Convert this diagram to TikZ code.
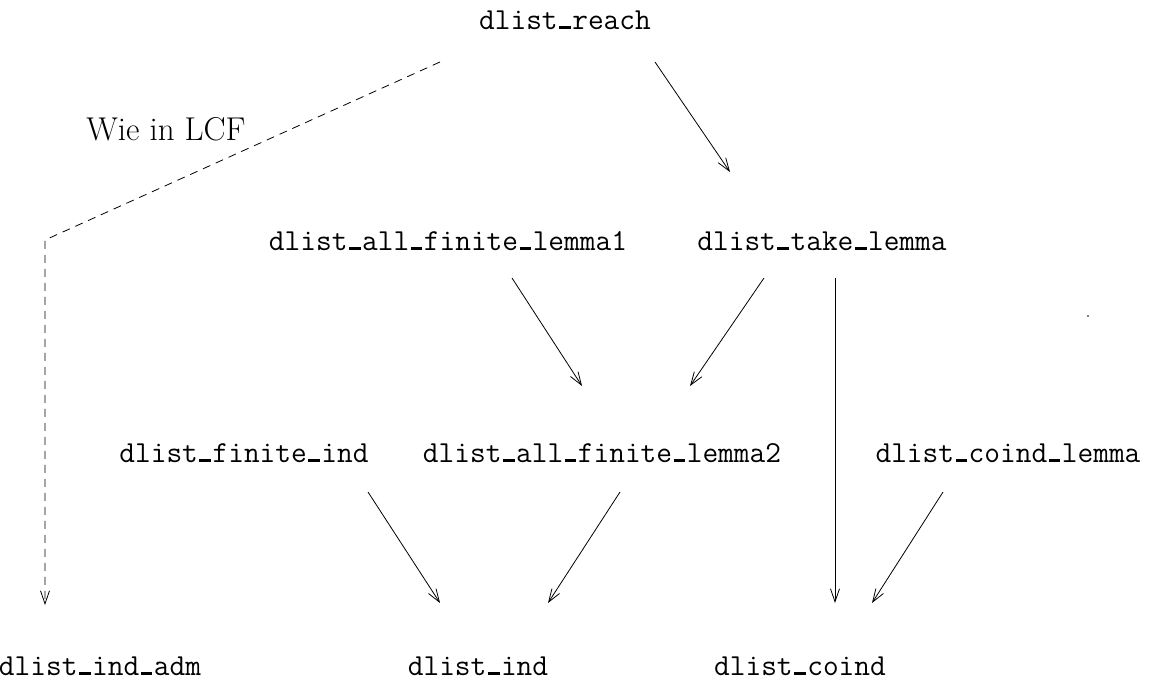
\documentclass[tikz,border=0pt]{standalone}
\usetikzlibrary{arrows.meta,calc}
% short bar on the baseline used as the underscore in theorem names
\newcommand\us{\kern.05em\vrule width .38em height .085em depth 0pt\kern.05em}
\begin{document}
\begin{tikzpicture}[x=1pt,y=-1pt,
  thm/.style={font=\fontsize{30.5}{36}\selectfont\ttfamily, inner sep=0pt, anchor=base},
  note/.style={font=\fontsize{33}{38}\selectfont\rmfamily, inner sep=0pt, anchor=base},
  dep/.style={line width=0.8pt, -{Straight Barb[length=13pt,width=9pt,line width=0.8pt]}},
  loose/.style={dep, dash pattern=on 8pt off 6pt}]
\useasboundingbox (0,0) rectangle (1149,681);

% theorem names
\node[thm] (reach)  at (565,29)  {dlist\us reach};
\node[thm] (lemma1) at (448,250) {dlist\us all\us finite\us lemma1};
\node[thm] (take)   at (822,250) {dlist\us take\us lemma};
\node[thm] (fin)    at (244,462) {dlist\us finite\us ind};
\node[thm] (lemma2) at (602,462) {dlist\us all\us finite\us lemma2};
\node[thm] (coindl) at (1008,462) {dlist\us coind\us lemma};
\node[thm] (indadm) at (100,675) {dlist\us ind\us adm};
\node[thm] (ind)    at (478,675) {dlist\us ind};
\node[thm] (coind)  at (800,675) {dlist\us coind};
\node[note] (wie)   at (166,140) {Wie in LCF};

\coordinate (bend) at (45,240);

% dependencies
\draw[loose] ($(reach.base)+(-125,33)$) -- (bend) -- ($(indadm.base)+(-55,-70)$);
\draw[dep] ($(reach.base)+(90,33)$)   -- ($(take.base)+(-92,-78)$);
\draw[dep] ($(lemma1.base)+(64,28)$)  -- ($(lemma2.base)+(-20,-76)$);
\draw[dep] ($(take.base)+(-58,28)$)   -- ($(lemma2.base)+(88,-76)$);
\draw[dep] ($(take.base)+(13,28)$)    -- ($(coind.base)+(35,-72)$);
\draw[dep] ($(fin.base)+(124,30)$)    -- ($(ind.base)+(-38,-72)$);
\draw[dep] ($(lemma2.base)+(18,30)$)  -- ($(ind.base)+(70,-72)$);
\draw[dep] ($(coindl.base)+(-65,30)$) -- ($(coind.base)+(72,-72)$);

% stray dot
\fill (1088,316) circle (0.8pt);
\end{tikzpicture}
\end{document}
